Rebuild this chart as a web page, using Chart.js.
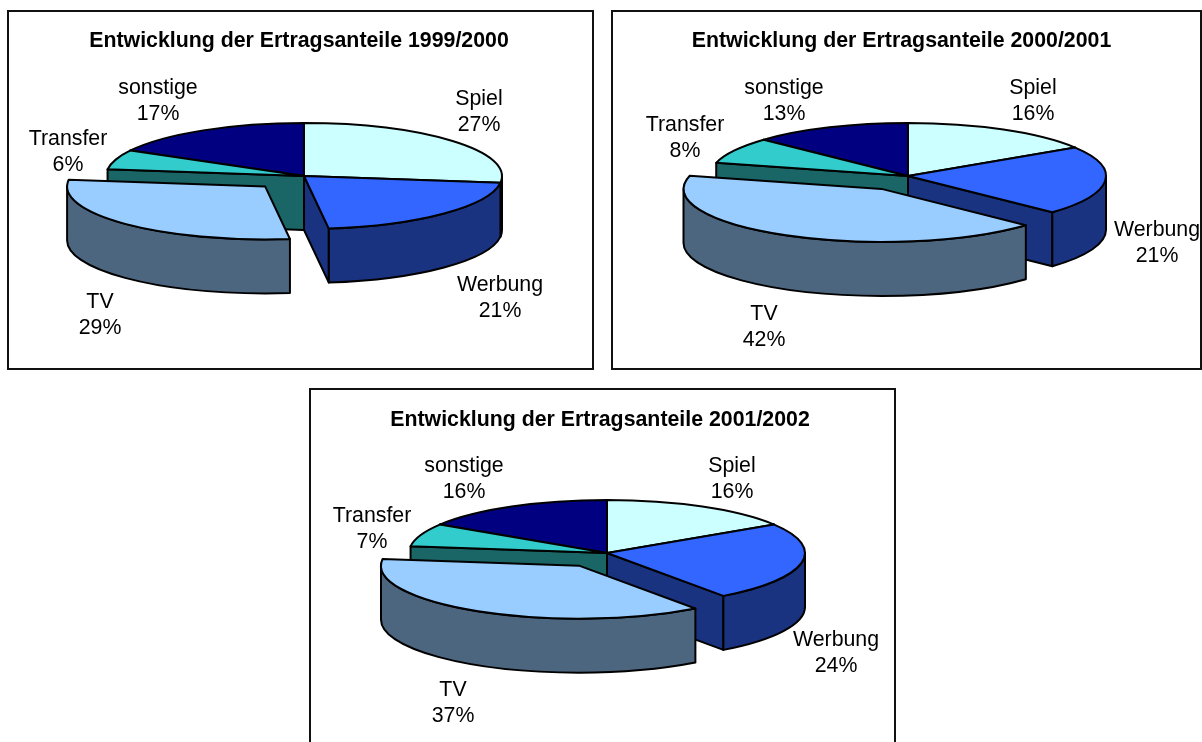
<!DOCTYPE html>
<html>
<head>
<meta charset="utf-8">
<script src="https://cdn.jsdelivr.net/npm/chart.js@4"></script>
<style>
html,body{margin:0;padding:0;background:#fff;width:1202px;height:742px;overflow:hidden}
.frame{position:absolute;border:2px solid #111;background:#fff}
canvas{display:block}
</style>
</head>
<body>
<div class="frame" style="left:7px;top:10px;width:583px;height:356px"><canvas id="c1" width="583" height="356"></canvas></div>
<div class="frame" style="left:611px;top:10px;width:587px;height:356px"><canvas id="c2" width="587" height="356"></canvas></div>
<div class="frame" style="left:309px;top:388px;width:583px;height:356px"><canvas id="c3" width="583" height="356"></canvas></div>
<script>
const categories = ['Spiel','Werbung','TV','Transfer','sonstige'];
const titles = ['Entwicklung der Ertragsanteile 1999/2000','Entwicklung der Ertragsanteile 2000/2001','Entwicklung der Ertragsanteile 2001/2002'];
const values1999 = [27,21,29,6,17];
const values2000 = [16,21,42,8,13];
const values2001 = [16,24,37,7,16];
const explodeOffsets = [0,0,55,0,0];
const topColors = ['#CCFFFF','#3366FF','#99CCFF','#33CCCC','#000080'];
const sideColors = ['#668080','#1A3380','#4D6680','#1A6666','#000040'];
const labelOffsets1999 = [[175,-64],[196,122],[-204,139],[-236,-24],[-146,-75]];
const labelOffsets2000 = [[125,-75],[249,67],[-144,151],[-223,-38],[-124,-75]];
const labelOffsets2001 = [[125,-74],[229,100],[-154,150],[-235,-24],[-143,-74]];
const RADIUS = 198, SQUASH = 53/198, DEPTH = 54, LINE = 2;
const FONT = '"Liberation Sans", Arial, sans-serif', FONT_SIZE = 21.33;

const pie3d = {
  id:'pie3d',
  beforeDatasetDraw(chart,args,opts){
    const ctx = chart.ctx, meta = args.meta;
    const order = meta.data.map((arc,i)=>{
      const mid = (arc.startAngle+arc.endAngle)/2, L = explodeOffsets[i];
      return {arc,i,ox:L*Math.cos(mid)+opts.dx,oy:L*Math.sin(mid)*SQUASH,mid};
    }).sort((p,q)=>(Math.sin(p.mid)+p.oy*0.01)-(Math.sin(q.mid)+q.oy*0.01));
    order.forEach(({arc,i,ox,oy})=>{
      const cx = arc.x+ox, cy = arc.y+oy, r = arc.outerRadius;
      const a = arc.startAngle, b = arc.endAngle;
      const pt = t=>[cx+r*Math.cos(t), cy+r*SQUASH*Math.sin(t)];
      ctx.save();
      ctx.fillStyle = sideColors[i];
      ctx.strokeStyle = '#000';
      ctx.lineWidth = LINE;
      ctx.lineJoin = 'round';
      const radial = t=>{
        const p = pt(t);
        ctx.beginPath();
        ctx.moveTo(cx,cy); ctx.lineTo(p[0],p[1]);
        ctx.lineTo(p[0],p[1]+DEPTH); ctx.lineTo(cx,cy+DEPTH); ctx.closePath();
        ctx.fill(); ctx.stroke();
      };
      if (Math.cos(a)<0) radial(a);
      if (Math.cos(b)>0) radial(b);
      const f0 = Math.max(a,0), f1 = Math.min(b,Math.PI);
      if (f1>f0){
        ctx.beginPath();
        ctx.ellipse(cx,cy,r,r*SQUASH,0,f0,f1,false);
        ctx.ellipse(cx,cy+DEPTH,r,r*SQUASH,0,f1,f0,true);
        ctx.closePath();
        ctx.fill(); ctx.stroke();
      }
      ctx.restore();
      // top face: the library's own arc element, squashed into an ellipse
      ctx.save();
      ctx.translate(cx,cy); ctx.scale(1,SQUASH); ctx.translate(-arc.x,-arc.y);
      const nativeStroke = ctx.stroke;
      ctx.stroke = function(){ ctx.save(); ctx.setTransform(1,0,0,1,0,0); nativeStroke.call(ctx); ctx.restore(); };
      arc.draw(ctx);
      delete ctx.stroke;
      ctx.restore();
    });
    return false;
  },
  afterDraw(chart,args,opts){
    const ctx = chart.ctx, meta = chart.getDatasetMeta(0), arc = meta.data[0];
    const values = chart.data.datasets[0].data;
    ctx.save();
    ctx.font = FONT_SIZE+'px '+FONT;
    ctx.fillStyle = '#000';
    ctx.textAlign = 'center';
    ctx.textBaseline = 'middle';
    chart.data.labels.forEach((l,i)=>{
      const x = arc.x+opts.dx+opts.labels[i][0], y = arc.y+opts.labels[i][1];
      ctx.fillText(l,x,y-13);
      ctx.fillText(values[i]+'%',x,y+13.5);
    });
    ctx.restore();
  }
};

function build(id,title,values,labels,dx,padRight,cy,titleTop){
  const h = 356;
  const areaTop = titleTop+FONT_SIZE*1.2;
  return new Chart(document.getElementById(id),{
    type:'pie',
    data:{labels:categories,datasets:[{data:values,backgroundColor:topColors,borderColor:'#000',borderWidth:LINE,radius:RADIUS,borderJoinStyle:'round'}]},
    options:{
      responsive:false,animation:false,events:[],
      layout:{padding:{top:0,left:0,right:padRight,bottom:h-(2*cy-areaTop)}},
      plugins:{
        legend:{display:false},tooltip:{enabled:false},
        title:{display:true,text:title,color:'#000',font:{family:FONT,size:FONT_SIZE,weight:'bold'},padding:{top:titleTop,bottom:0}},
        pie3d:{dx,labels}
      }
    },
    plugins:[pie3d]
  });
}
build('c1',titles[0],values1999,labelOffsets1999,5,3,164,16);
build('c2',titles[1],values2000,labelOffsets2000,6.5,10,164,16);
build('c3',titles[2],values2001,labelOffsets2001,7,5,163,17);
</script>
</body>
</html>
